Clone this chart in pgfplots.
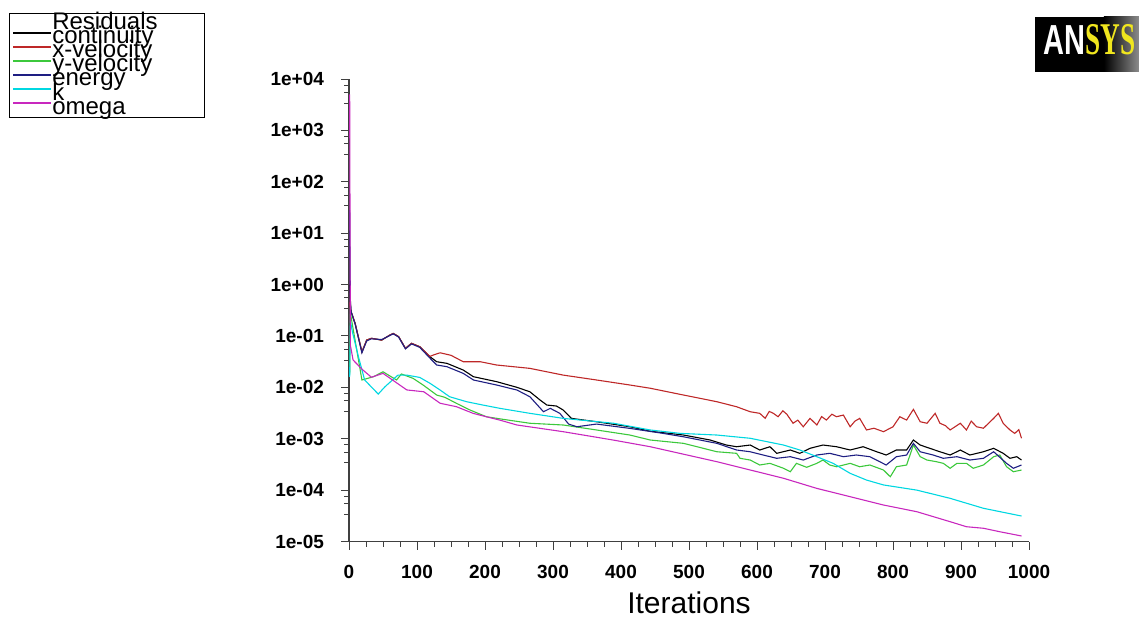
\documentclass[border=0pt]{standalone}
\usepackage{pgfplots}
\pgfplotsset{compat=1.18}
\usepackage{fontspec}
\setmainfont{Liberation Sans}
\newfontfamily\logoserif{Liberation Serif}

\definecolor{cont}{RGB}{0,0,0}
\definecolor{xvel}{RGB}{190,40,40}
\definecolor{yvel}{RGB}{60,200,60}
\definecolor{ener}{RGB}{30,30,130}
\definecolor{kcol}{RGB}{0,215,225}
\definecolor{omeg}{RGB}{200,40,190}

\begin{document}
\begin{tikzpicture}
% page = 1139 x 619 px, 1 px = 0.5pt, origin top left
\path[use as bounding box] (0,0) rectangle (569.5pt,-309.5pt);

\begin{axis}[
  at={(174.5pt,-270.75pt)}, anchor=south west,
  scale only axis, width=340pt, height=231.25pt,
  ymode=log,
  xmin=0, xmax=1000, ymin=1e-5, ymax=1e4,
  axis x line*=bottom, axis y line*=left,
  axis line style={black!75, line width=0.6pt},
  tick align=outside,
  major tick length=4pt, minor tick length=2.5pt,
  tick style={black!75, line width=0.5pt},
  xtick={0,100,200,300,400,500,600,700,800,900,1000},
  xticklabels={0,100,200,300,400,500,600,700,800,900,1000},
  minor x tick num=3,
  ytick={1e-5,1e-4,1e-3,1e-2,1e-1,1,10,100,1000,10000},
  yticklabels={1e-05,1e-04,1e-03,1e-02,1e-01,1e+00,1e+01,1e+02,1e+03,1e+04},
  minor ytick={7.6e3,5.5e3,3.4e3,7.6e2,5.5e2,3.4e2,76,55,34,7.6,5.5,3.4,
    0.76,0.55,0.34,7.6e-2,5.5e-2,3.4e-2,7.6e-3,5.5e-3,3.4e-3,
    7.6e-4,5.5e-4,3.4e-4,7.6e-5,5.5e-5,3.4e-5},
  ticklabel style={font=\fontsize{9.5}{10}\selectfont\bfseries},
  xticklabel style={yshift=-4.5pt},
  yticklabel style={xshift=-5pt},
  xlabel={Iterations},
  xlabel style={font=\fontsize{15}{15}\selectfont, anchor=base,
    at={(axis description cs:0.5,-0.155)}},
  legend style={at={(-0.4996,1.1421)}, anchor=north west,
    draw=black, line width=0.5pt, inner xsep=1.35pt, inner ysep=1.2pt,
    row sep=0pt, font=\fontsize{12}{12}\selectfont,
    nodes={inner sep=0pt, text height=6.7pt, text depth=0.35pt}},
  legend cell align=left,
  legend image post style={xscale=1.113, yshift=2.3pt, line width=0.9pt},
  every axis plot/.append style={line width=0.55pt},
]
\addlegendimage{empty legend}
\addlegendentry{\makebox[75pt][l]{Residuals}}

% continuity
\addplot[cont] coordinates {
(1,1.0)(2,0.5)(3,0.3)(9,0.176)(19,0.049)(26,0.083)(33,0.090)(48,0.083)
(60,0.104)(65,0.112)(73,0.097)(83,0.0574)(92,0.0718)(104,0.0617)(119,0.0394)
(129,0.0315)(144,0.0293)(168,0.0217)(183,0.0161)(217,0.0129)(247,0.0100)
(266,0.0082)(281,0.00566)(291,0.00452)(305,0.00433)(315,0.00362)(327,0.00249)
(364,0.00214)(413,0.00171)(443,0.00140)(492,0.00118)(531,9.44e-4)(555,7.54e-4)
(570,6.99e-4)(590,7.54e-4)(604,6.03e-4)(619,6.99e-4)(629,5.20e-4)(649,6.03e-4)
(663,5.20e-4)(678,6.51e-4)(697,7.54e-4)(717,6.99e-4)(737,6.03e-4)(756,6.99e-4)
(776,5.58e-4)(790,4.82e-4)(805,6.03e-4)(820,6.03e-4)(830,9.44e-4)(840,7.54e-4)
(854,6.51e-4)(869,5.58e-4)(884,4.82e-4)(899,6.03e-4)(913,4.82e-4)(933,5.58e-4)
(948,6.51e-4)(962,5.20e-4)(972,4.16e-4)(982,4.47e-4)(989,3.85e-4)
};
\addlegendentry{continuity}

% x-velocity
\addplot[xvel] coordinates {
(1,0.45)(2,0.35)(3,0.3)(9,0.176)(19,0.049)(26,0.083)(33,0.090)(48,0.083)
(60,0.104)(65,0.112)(73,0.097)(83,0.0574)(92,0.0718)(104,0.0617)(119,0.040)
(125,0.043)(134,0.047)(150,0.042)(168,0.0315)(193,0.0315)(217,0.0272)
(266,0.0234)(315,0.0173)(364,0.0139)(413,0.0111)(443,0.0096)(492,7.08e-3)
(541,5.25e-3)(570,4.19e-3)(590,3.35e-3)(604,3.12e-3)(612,2.5e-3)(618,3.4e-3)
(624,3.12e-3)(631,2.68e-3)(638,3.5e-3)(644,2.98e-3)(653,2.0e-3)(660,2.3e-3)
(668,1.71e-3)(678,2.49e-3)(688,1.85e-3)(695,2.7e-3)(702,2.31e-3)(710,3.0e-3)
(717,2.68e-3)(727,2.89e-3)(737,1.71e-3)(744,2.2e-3)(751,2.49e-3)(761,1.48e-3)
(772,1.6e-3)(786,1.37e-3)(800,1.71e-3)(810,2.68e-3)(820,2.31e-3)(830,3.73e-3)
(840,2.14e-3)(850,2.0e-3)(862,3.12e-3)(869,2.0e-3)(877,1.8e-3)(884,1.48e-3)
(899,2.0e-3)(908,1.48e-3)(915,2.2e-3)(923,1.71e-3)(933,1.6e-3)(948,2.49e-3)
(955,3.12e-3)(962,2.0e-3)(972,1.48e-3)(979,1.27e-3)(985,1.5e-3)(989,1.02e-3)
};
\addlegendentry{x-velocity}

% y-velocity
\addplot[yvel] coordinates {
(1,0.018)(2,0.35)(3,0.236)(19,0.0139)(36,0.0161)(50,0.0201)(58,0.0173)
(70,0.0139)(77,0.0182)(94,0.0150)(109,0.0111)(129,0.00708)(141,0.00639)
(158,0.00488)(178,0.00362)(202,0.00268)(227,0.00238)(266,0.00200)(315,0.00185)
(364,0.00148)(413,0.00118)(443,9.44e-4)(492,8.13e-4)(541,5.58e-4)(570,5.20e-4)
(575,4.16e-4)(590,3.85e-4)(604,3.08e-4)(619,3.32e-4)(639,2.66e-4)(649,2.28e-4)
(658,3.32e-4)(673,2.78e-4)(688,3.32e-4)(697,3.85e-4)(707,3.08e-4)(717,2.85e-4)
(737,3.32e-4)(751,2.85e-4)(766,3.08e-4)(786,2.46e-4)(796,1.82e-4)(805,2.85e-4)
(820,3.08e-4)(830,7.54e-4)(840,4.47e-4)(850,3.85e-4)(864,3.57e-4)(874,3.32e-4)
(884,2.66e-4)(894,3.32e-4)(908,3.32e-4)(918,2.66e-4)(933,3.08e-4)(948,4.47e-4)
(957,4.82e-4)(967,2.85e-4)(977,2.28e-4)(989,2.46e-4)
};
\addlegendentry{y-velocity}

% energy
\addplot[ener] coordinates {
(1,28)(2,0.45)(3,0.3)(9,0.17)(19,0.047)(26,0.08)(33,0.088)(48,0.085)
(60,0.102)(65,0.110)(73,0.095)(83,0.056)(92,0.070)(104,0.060)(119,0.037)
(129,0.0272)(144,0.0252)(168,0.0187)(183,0.0139)(217,0.0111)(247,0.00886)
(266,0.00656)(286,0.00335)(296,0.0039)(310,0.00312)(323,0.00193)(335,0.00171)
(364,0.00193)(413,0.00159)(462,0.00127)(492,0.00109)(541,8.13e-4)(570,6.03e-4)
(590,5.58e-4)(609,4.82e-4)(629,4.16e-4)(649,4.47e-4)(668,3.85e-4)(688,4.82e-4)
(707,5.20e-4)(727,4.47e-4)(746,4.82e-4)(766,4.47e-4)(790,3.08e-4)(805,4.47e-4)
(820,4.82e-4)(830,8.13e-4)(840,5.58e-4)(859,4.82e-4)(874,4.16e-4)(894,4.47e-4)
(913,3.85e-4)(933,4.16e-4)(948,5.58e-4)(967,3.32e-4)(977,2.66e-4)(989,3.08e-4)
};
\addlegendentry{energy}

% k
\addplot[kcol] coordinates {
(1,0.016)(2,0.2)(5,0.12)(14,0.039)(23,0.0139)(43,0.0074)(53,0.0103)
(72,0.0173)(85,0.0173)(104,0.0156)(119,0.0120)(134,0.00886)(148,0.00656)
(173,0.00525)(197,0.00452)(222,0.0039)(266,0.00312)(315,0.00249)(389,0.0020)
(443,0.00148)(487,0.00127)(541,0.00118)(590,0.00102)(639,7.54e-4)(663,6.03e-4)
(688,4.47e-4)(712,3.32e-4)(737,2.12e-4)(761,1.57e-4)(786,1.26e-4)(835,1.0e-4)
(884,6.92e-5)(933,4.43e-5)(989,3.13e-5)
};
\addlegendentry{k}

% omega
\addplot[omeg] coordinates {
(1,5000)(2,0.066)(6,0.034)(20,0.022)(33,0.0157)(50,0.0187)(85,0.0089)
(110,0.0082)(134,0.0049)(158,0.0042)(183,0.0031)(222,0.0023)(247,0.00185)
(315,0.00137)(389,9.4e-4)(443,6.99e-4)(541,3.57e-4)(639,1.70e-4)(688,1.08e-4)
(737,7.44e-5)(786,5.13e-5)(835,3.80e-5)(884,2.43e-5)(908,1.94e-5)(933,1.81e-5)
(957,1.55e-5)(989,1.28e-5)
};
\addlegendentry{omega}
\end{axis}

% ANSYS logo
\fill[black] (517.5pt,-8.5pt) rectangle (552pt,-36pt);
\shade[left color=black, right color=black!45] (551.9pt,-8.5pt) rectangle (569.5pt,-36pt);
\node[anchor=base west, inner sep=0pt, text=white,
  font=\fontsize{21}{21}\selectfont\bfseries] at (521.5pt,-27.5pt)
  {\scalebox{0.69}[1]{AN}};
\node[anchor=base west, inner sep=0pt, text={rgb,255:red,240;green,230;blue,30},
  font=\logoserif\fontsize{22.7}{22.7}\selectfont\bfseries] at (542.5pt,-27.5pt)
  {\scalebox{0.6}[1]{SYS}};
\end{tikzpicture}
\end{document}
